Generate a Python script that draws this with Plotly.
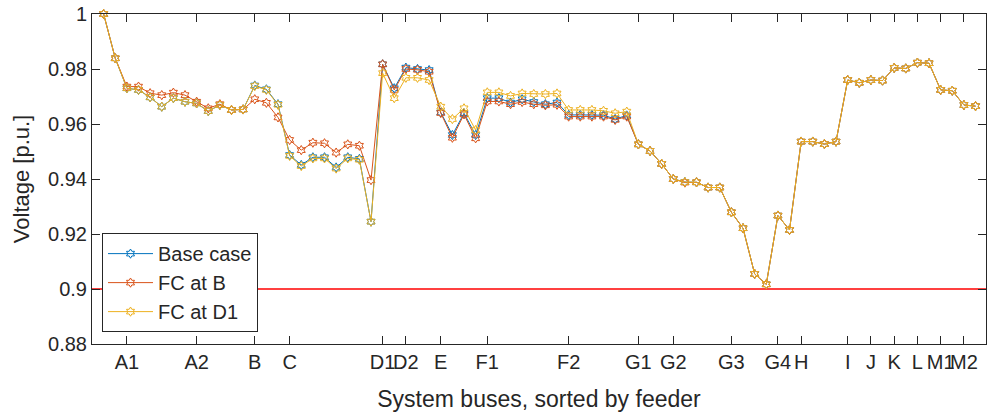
import plotly.graph_objects as go

# ---------------- data ----------------
base_case = [1.0, 0.9839, 0.9730, 0.9724, 0.9697, 0.9663, 0.9694, 0.9681, 0.9675, 0.9647,
             0.9669, 0.9651, 0.9653, 0.9740, 0.9726, 0.9672, 0.9487, 0.9451, 0.9479, 0.9479,
             0.9442, 0.9479, 0.9473, 0.9245, 0.9817, 0.9730, 0.9805, 0.9800, 0.9796, 0.9642,
             0.9560, 0.9639, 0.9560, 0.9694, 0.9694, 0.9678, 0.9690, 0.9680, 0.9672, 0.9678,
             0.9633, 0.9633, 0.9633, 0.9632, 0.9618, 0.9631, 0.9526, 0.9502, 0.9455, 0.9400,
             0.9389, 0.9388, 0.9369, 0.9369, 0.9279, 0.9221, 0.9055, 0.9017, 0.9267, 0.9215,
             0.9536, 0.9536, 0.9527, 0.9536, 0.9760, 0.9750, 0.9760, 0.9758, 0.9804, 0.9802,
             0.9823, 0.9821, 0.9724, 0.9721, 0.9669, 0.9665]

fc_at_b = [1.0, 0.9839, 0.9736, 0.9736, 0.9712, 0.9705, 0.9714, 0.9705, 0.9681, 0.9657,
           0.9672, 0.9651, 0.9653, 0.9690, 0.9677, 0.9624, 0.9542, 0.9505, 0.9532, 0.9530,
           0.9496, 0.9526, 0.9521, 0.9396, 0.9817, 0.9724, 0.9800, 0.9797, 0.9790, 0.9640,
           0.9550, 0.9635, 0.9548, 0.9682, 0.9682, 0.9672, 0.9680, 0.9672, 0.9668, 0.9670,
           0.9627, 0.9627, 0.9627, 0.9627, 0.9615, 0.9627, 0.9526, 0.9502, 0.9455, 0.9400,
           0.9387, 0.9388, 0.9369, 0.9369, 0.9279, 0.9221, 0.9055, 0.9017, 0.9267, 0.9215,
           0.9536, 0.9536, 0.9527, 0.9536, 0.9760, 0.9750, 0.9760, 0.9758, 0.9804, 0.9802,
           0.9823, 0.9821, 0.9724, 0.9721, 0.9669, 0.9665]

fc_at_d1 = [1.0, 0.9839, 0.9730, 0.9724, 0.9697, 0.9663, 0.9694, 0.9681, 0.9675, 0.9647,
            0.9669, 0.9651, 0.9653, 0.9738, 0.9724, 0.9670, 0.9484, 0.9447, 0.9475, 0.9475,
            0.9438, 0.9475, 0.9470, 0.9245, 0.9785, 0.9694, 0.9768, 0.9768, 0.9760, 0.9663,
            0.9618, 0.9657, 0.9578, 0.9715, 0.9715, 0.9702, 0.9711, 0.9709, 0.9709, 0.9711,
            0.9651, 0.9651, 0.9651, 0.9648, 0.9639, 0.9645, 0.9526, 0.9502, 0.9455, 0.9400,
            0.9389, 0.9388, 0.9369, 0.9369, 0.9279, 0.9221, 0.9055, 0.9017, 0.9267, 0.9215,
            0.9536, 0.9536, 0.9527, 0.9536, 0.9760, 0.9750, 0.9760, 0.9758, 0.9804, 0.9802,
            0.9823, 0.9821, 0.9724, 0.9721, 0.9669, 0.9665]

feeder_labels = ["A1", "A2", "B", "C", "D1", "D2", "E", "F1", "F2", "G1", "G2",
                 "G3", "G4", "H", "I", "J", "K", "L", "M1", "M2"]
feeder_positions = [3, 9, 14, 17, 25, 27, 30, 34, 41, 47, 50,
                    55, 59, 61, 65, 67, 69, 71, 73, 75]

y_tick_values = [0.88, 0.90, 0.92, 0.94, 0.96, 0.98, 1.0]
y_tick_labels = ["0.88", "0.9", "0.92", "0.94", "0.96", "0.98", "1"]

voltage_limit = 0.9

series_names = ["Base case", "FC at B", "FC at D1"]
series_colors = ["#0072BD", "#D95319", "#EDB120"]

# ---------------- figure ----------------
bus_index = list(range(1, len(base_case) + 1))
AX = "#262626"
FONT = "Liberation Sans, Arial, sans-serif"

fig = go.Figure()
fig.add_hline(y=voltage_limit, line=dict(color="#FF0000", width=1.3), layer="below")

for name, vals, col in zip(series_names, [base_case, fc_at_b, fc_at_d1], series_colors):
    fig.add_trace(go.Scatter(
        x=bus_index, y=vals, name=name, mode="lines+markers",
        line=dict(color=col, width=1),
        marker=dict(symbol="hexagram-open", size=7, color=col, line=dict(width=1, color=col)),
        cliponaxis=False,
    ))

fig.update_layout(
    width=987, height=419,
    margin=dict(l=92, r=1, t=14, b=75),
    paper_bgcolor="white", plot_bgcolor="white",
    font=dict(family=FONT, color=AX, size=20),
    showlegend=True,
    legend=dict(
        x=0.0112, y=0.036, xanchor="left", yanchor="bottom",
        bgcolor="white", bordercolor=AX, borderwidth=1,
        font=dict(family=FONT, size=20, color=AX),
        tracegroupgap=0, itemwidth=45,
    ),
)

fig.update_xaxes(
    range=[0, 76.9],
    tickmode="array", tickvals=feeder_positions, ticktext=feeder_labels,
    tickangle=0,
    ticks="inside", ticklen=8, tickwidth=1, tickcolor=AX,
    showline=True, linecolor=AX, linewidth=1, mirror="ticks",
    showgrid=False, zeroline=False,
    tickfont=dict(family=FONT, size=20, color=AX),
    title=dict(text="System buses, sorted by feeder",
               font=dict(family=FONT, size=23, color=AX), standoff=18),
)
fig.update_yaxes(
    range=[0.88, 1.0],
    tickmode="array", tickvals=y_tick_values, ticktext=y_tick_labels,
    ticks="inside", ticklen=8, tickwidth=1, tickcolor=AX,
    showline=True, linecolor=AX, linewidth=1, mirror="ticks",
    showgrid=False, zeroline=False,
    tickfont=dict(family=FONT, size=20, color=AX),
    title=dict(text="Voltage [p.u.]",
               font=dict(family=FONT, size=22, color=AX), standoff=12),
)

fig.write_html("out.html")
